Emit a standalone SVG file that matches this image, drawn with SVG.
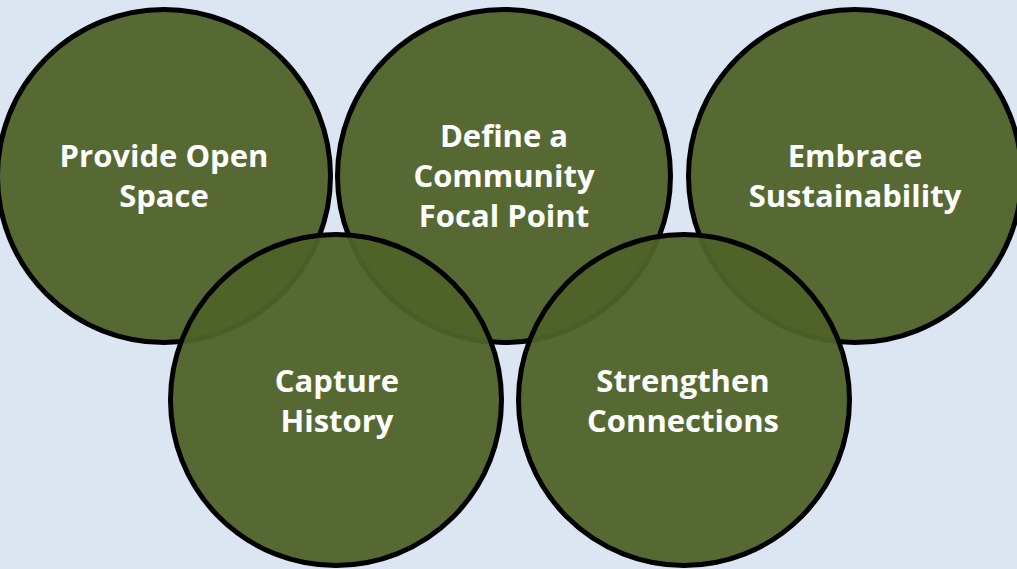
<svg xmlns="http://www.w3.org/2000/svg" width="1017" height="569" viewBox="0 0 1017 569">
  <style>
    .c { fill: #4f6228; fill-opacity: 0.95; stroke: #000000; stroke-width: 5; }
    .t { fill: #ffffff; font-family: "Open Sans", "Liberation Sans", sans-serif; font-weight: bold; font-size: 31px; text-anchor: middle; }
  </style>
  <rect x="0" y="0" width="1017" height="569" fill="#dce6f2"/>
  <g id="node-provide-open-space">
    <circle class="c" cx="164" cy="176" r="166.5"/>
    <text class="t" x="164" y="167">Provide Open</text>
    <text class="t" x="164" y="207">Space</text>
  </g>
  <g id="node-define-focal-point">
    <circle class="c" cx="504" cy="176" r="166.5"/>
    <text class="t" x="504" y="147">Define a</text>
    <text class="t" x="504" y="187">Community</text>
    <text class="t" x="504" y="227">Focal Point</text>
  </g>
  <g id="node-embrace-sustainability">
    <circle class="c" cx="855" cy="176" r="166.5"/>
    <text class="t" x="855" y="167">Embrace</text>
    <text class="t" x="855" y="207">Sustainability</text>
  </g>
  <g id="node-capture-history">
    <circle class="c" cx="336" cy="400" r="165.5"/>
    <text class="t" x="337" y="392">Capture</text>
    <text class="t" x="337" y="432">History</text>
  </g>
  <g id="node-strengthen-connections">
    <circle class="c" cx="684" cy="400" r="165.5"/>
    <text class="t" x="683" y="392">Strengthen</text>
    <text class="t" x="683" y="432">Connections</text>
  </g>
  <g id="connectors"></g>
</svg>
